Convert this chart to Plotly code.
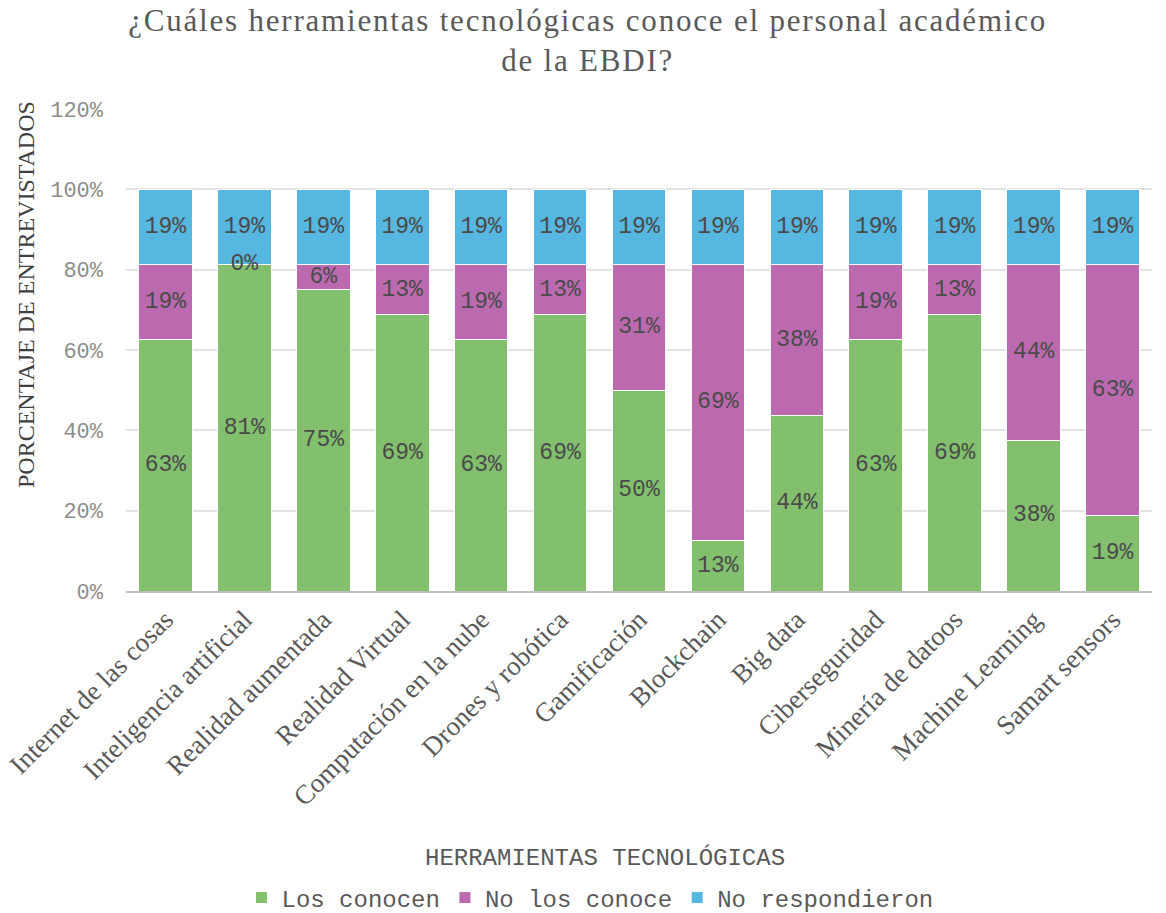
import plotly.graph_objects as go
import math

categories = ["Internet de las cosas", "Inteligencia artificial", "Realidad aumentada",
              "Realidad Virtual", "Computación en la nube", "Drones y robótica",
              "Gamificación", "Blockchain", "Big data", "Ciberseguridad",
              "Minería de datoos", "Machine Learning", "Samart sensors"]
los_conocen = [0.625, 0.8125, 0.75, 0.6875, 0.625, 0.6875, 0.50, 0.125, 0.4375, 0.625, 0.6875, 0.375, 0.1875]
no_los_conoce = [0.1875, 0.0, 0.0625, 0.125, 0.1875, 0.125, 0.3125, 0.6875, 0.375, 0.1875, 0.125, 0.4375, 0.625]
no_respondieron = [0.1875] * 13
series = [("Los conocen", los_conocen, "#82C06E"),
          ("No los conoce", no_los_conoce, "#BC6AB0"),
          ("No respondieron", no_respondieron, "#56B7E0")]
y_ticks = [0, 0.2, 0.4, 0.6, 0.8, 1.0, 1.2]

def pct(v):
    return f"{math.floor(v * 100 + 0.5 + 1e-9)}%"

fig = go.Figure()
base = [0.0] * len(categories)
for name, vals, color in series:
    fig.add_trace(go.Bar(x=categories, y=vals, name=name, marker_color=color,
                         marker_line_color="white", marker_line_width=1))
for name, vals, color in series:
    mids = [b + v / 2 for b, v in zip(base, vals)]
    fig.add_trace(go.Scatter(x=categories, y=mids, mode="text", text=[pct(v) for v in vals],
                             textfont=dict(family="Liberation Mono", size=23, color="#4A4A4A"),
                             showlegend=False, hoverinfo="skip", cliponaxis=False))
    base = [b + v for b, v in zip(base, vals)]

pw, ph = 1166 - 126 - 14, 913 - 109 - 322

def px_x(x):
    return (x - 126) / pw

def px_y(y):
    return (591 - y) / ph

title_text = ('<span style="letter-spacing:1.8px">¿Cuáles herramientas tecnológicas conoce el personal académico'
              '<br>de la EBDI?</span>')

fig.update_layout(
    barmode="stack", bargap=0.32,
    width=1166, height=913,
    paper_bgcolor="white", plot_bgcolor="white",
    margin=dict(l=126, r=14, t=109, b=322, autoexpand=False),
    title=dict(text=title_text, x=0.504, xanchor="center", y=0.966, yanchor="top",
               font=dict(family="Liberation Serif", size=31, color="#595959")),
    legend=dict(orientation="h", x=px_x(590), xanchor="center", y=px_y(898), yanchor="middle",
                font=dict(family="Liberation Mono", size=24, color="#595959"),
                traceorder="normal"),
    xaxis=dict(range=[-0.5, len(categories) - 0.5], tickangle=-45,
               tickfont=dict(family="Liberation Serif", size=27, color="#595959"),
               showline=True, linecolor="#BFBFBF", linewidth=2, ticks="", showgrid=False,
               automargin=False),
    yaxis=dict(range=[0, 1.2], tickvals=y_ticks, tickformat=".0%",
               tickfont=dict(family="Liberation Mono", size=22, color="#8C8C8C"),
               showgrid=True, gridcolor="#E3E3E3", gridwidth=2, zeroline=False,
               ticks="", ticklabelstandoff=22, automargin=False),
    annotations=[
        dict(text="PORCENTAJE DE ENTREVISTADOS", x=px_x(26), y=px_y(295), xref="paper", yref="paper",
             showarrow=False, textangle=-90, xanchor="center", yanchor="middle",
             font=dict(family="Liberation Serif", size=24, color="#404040")),
        dict(text="HERRAMIENTAS TECNOLÓGICAS", x=px_x(605), y=px_y(858), xref="paper", yref="paper",
             showarrow=False, xanchor="center", yanchor="middle",
             font=dict(family="Liberation Mono", size=24, color="#595959")),
    ],
)
fig.write_html("out.html", config={"displayModeBar": False},
               post_script="document.body.style.margin='0';")
